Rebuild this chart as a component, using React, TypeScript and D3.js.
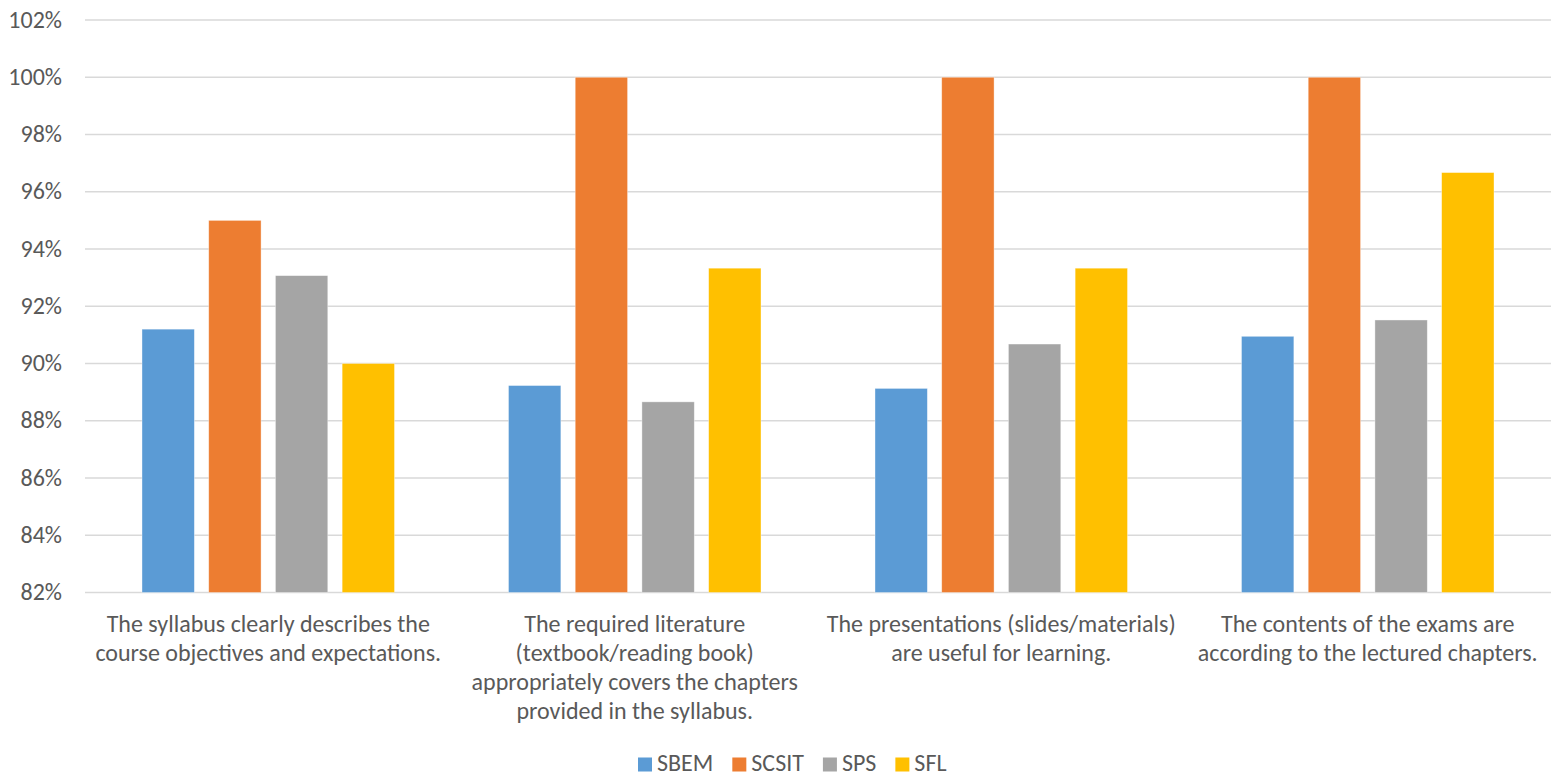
import React from "react";
import * as d3 from "d3";

// Survey categories (x axis) and their wrapped label lines
const categories = ["Syllabus", "Literature", "Presentations", "Exams"];
const categoryLines = [
  ["The syllabus clearly describes the", "course objectives and expectations."],
  [
    "The required literature",
    "(textbook/reading book)",
    "appropriately covers the chapters",
    "provided in the syllabus.",
  ],
  ["The presentations (slides/materials)", "are useful for learning."],
  ["The contents of the exams are", "according to the lectured chapters."],
];

// Schools (series) and their share of agreement, in percent
const seriesNames = ["SBEM", "SCSIT", "SPS", "SFL"];
const sbem = [91.2, 89.23, 89.13, 90.95];
const scsit = [95.0, 100, 100, 100];
const sps = [93.07, 88.66, 90.68, 91.52];
const sfl = [90.0, 93.33, 93.33, 96.67];
const seriesValues = [sbem, scsit, sps, sfl];
const seriesColors = ["#5B9BD5", "#ED7D31", "#A5A5A5", "#FFC000"];

// Y axis ticks
const yTicks = [82, 84, 86, 88, 90, 92, 94, 96, 98, 100, 102];

const W = 1553;
const H = 779;
const FONT = "Calibri, Carlito, 'Open Sans', sans-serif";
const TEXT = "#595959";
const FS = 24;
const CAP_HALF = 0.32 * FS; // shift that centres cap height on a given y

function measure(text: string, size: number): number {
  if (typeof document === "undefined") return text.length * size * 0.5;
  const c = document.createElement("canvas");
  const ctx = c.getContext("2d");
  if (!ctx) return text.length * size * 0.5;
  ctx.font = `${size}px ${FONT}`;
  return ctx.measureText(text).width;
}

export default function App() {
  const left = 85;
  const right = 1551;
  const top = 20;
  const bottom = 592.5;

  const y = d3.scaleLinear().domain([82, 102]).range([bottom, top]);
  const x0 = d3.scaleBand<string>().domain(categories).range([left, right]);
  const cw = x0.bandwidth();
  const x1 = d3
    .scaleBand<string>()
    .domain(seriesNames)
    .range([cw * 0.1555, cw * (1 - 0.1555)])
    .paddingInner(0.215)
    .paddingOuter(0);

  const fmt = (v: number) => `${d3.format("d")(v)}%`;

  // Legend layout
  const sq = 14;
  const gapSqText = 5;
  const itemGap = 19;
  const widths = seriesNames.map((s) => sq + gapSqText + measure(s, FS));
  const legendStart = 638;
  const legendX = widths.map(
    (_, i) => legendStart + d3.sum(widths.slice(0, i)) + itemGap * i
  );
  const legendY = 764.5;

  return (
    <div style={{ position: "absolute", left: 0, top: 0 }}>
      <svg width={W} height={H} style={{ display: "block", background: "#fff" }}>
        <rect x={0} y={0} width={W} height={H} fill="#fff" />
        {/* gridlines */}
        {yTicks.map((t) => (
          <line
            key={`g${t}`}
            x1={left}
            x2={right}
            y1={y(t)}
            y2={y(t)}
            stroke="#d9d9d9"
            strokeWidth={1.5}
          />
        ))}
        {/* y tick labels */}
        {yTicks.map((t) => (
          <text
            key={`t${t}`}
            x={62}
            y={y(t) + CAP_HALF}
            textAnchor="end"
            fontFamily={FONT}
            fontSize={FS}
            fill={TEXT}
          >
            {fmt(t)}
          </text>
        ))}
        {/* bars */}
        {categories.map((c, ci) => (
          <g key={c} transform={`translate(${x0(c)},0)`}>
            {seriesNames.map((s, si) => {
              const v = seriesValues[si][ci];
              return (
                <rect
                  key={s}
                  x={x1(s)}
                  y={y(v)}
                  width={x1.bandwidth()}
                  height={y(82) - y(v)}
                  fill={seriesColors[si]}
                  stroke="#ffffff"
                  strokeOpacity={0.5}
                  strokeWidth={0.75}
                />
              );
            })}
          </g>
        ))}
        {/* category labels */}
        {categories.map((c, ci) => (
          <text
            key={`c${c}`}
            x={(x0(c) as number) + cw / 2}
            textAnchor="middle"
            fontFamily={FONT}
            fontSize={FS}
            fill={TEXT}
          >
            {categoryLines[ci].map((line, li) => (
              <tspan key={li} x={(x0(c) as number) + cw / 2} y={632 + li * 29}>
                {line}
              </tspan>
            ))}
          </text>
        ))}
        {/* legend */}
        {seriesNames.map((s, i) => (
          <g key={`l${s}`} transform={`translate(${legendX[i]},${legendY})`}>
            <rect x={0} y={-7} width={sq} height={sq} fill={seriesColors[i]} />
            <text
              x={sq + gapSqText}
              y={CAP_HALF - 1}
              fontFamily={FONT}
              fontSize={FS}
              fill={TEXT}
            >
              {s}
            </text>
          </g>
        ))}
      </svg>
    </div>
  );
}
